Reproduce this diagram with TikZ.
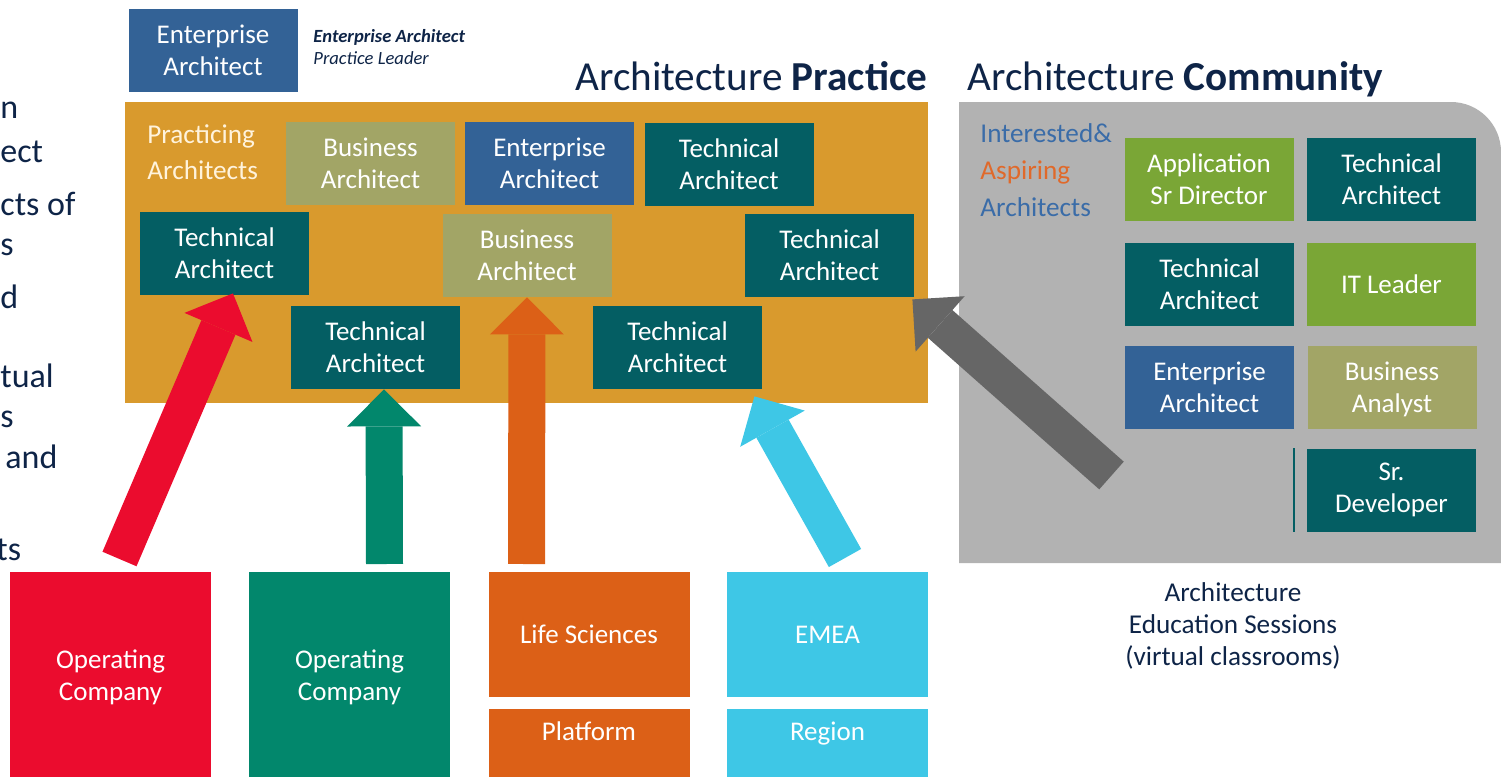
\documentclass[tikz,border=0pt]{standalone}
\usepackage{fontspec}
\setmainfont{Carlito}
\usetikzlibrary{arrows.meta}

\definecolor{practice}{HTML}{D99A2D}
\definecolor{community}{HTML}{B2B2B2}
\definecolor{techteal}{HTML}{045E63}
\definecolor{entblue}{HTML}{336296}
\definecolor{busolive}{HTML}{A2A566}
\definecolor{appgreen}{HTML}{7AA636}
\definecolor{navy}{HTML}{0E2447}
\definecolor{opred}{HTML}{EB0C2E}
\definecolor{opgreen}{HTML}{02876C}
\definecolor{lsorange}{HTML}{DC6017}
\definecolor{emeacyan}{HTML}{3EC7E6}
\definecolor{pointer}{HTML}{666666}
\definecolor{aspblue}{HTML}{3A6CA8}
\definecolor{asporange}{HTML}{E0692A}
\definecolor{cream}{HTML}{FFF3DC}

\tikzset{
  role/.style={inner sep=0pt, minimum width=84.5pt, minimum height=41.5pt,
    align=center, text=white, font=\fontsize{13.5}{16}\selectfont},
  tech/.style={role, fill=techteal},
  ent/.style={role, fill=entblue},
  bus/.style={role, fill=busolive},
  app/.style={role, fill=appgreen},
  unit/.style={role, minimum width=100.5pt},
  fragment/.style={anchor=base west, inner sep=0pt, text=navy,
    font=\fontsize{17}{20}\selectfont},
  heading/.style={anchor=base west, inner sep=0pt, text=navy,
    font=\fontsize{20.6}{24}\selectfont},
  bigarrow/.style={line width=18.5pt,
    -{Triangle[width=37pt,length=18.5pt,line width=0pt]}},
}

\begin{document}
\begin{tikzpicture}[x=0.5pt,y=-0.5pt]
      \useasboundingbox (0,0) rectangle (1501,777);
      % cut-off text on the left
      \node[fragment] (frag1) at (0,118) {n};
      \node[fragment] (frag2) at (0,162) {ect};
      \node[fragment] (frag3) at (0,215) {cts of};
      \node[fragment] (frag4) at (0,255) {s};
      \node[fragment] (frag5) at (0,308) {d};
      \node[fragment] (frag6) at (0,387) {tual};
      \node[fragment] (frag7) at (0,427) {s};
      \node[fragment] (frag8) at (5,468) {and};
      \node[fragment] (frag9) at (-4,560) {ts};
      % practice leader
      \node[ent] (lead) at (213,50) {Enterprise\\Architect};
      \node[anchor=west, align=left, inner sep=0pt, text=navy,
        font=\fontsize{9.3}{11}\selectfont] (leadnote) at (313,47)
        {\textbf{\textit{Enterprise Architect}}\\\textit{Practice Leader}};
      \node[heading] (practitle) at (575,90) {Architecture \textbf{Practice}};
      \node[heading] (commtitle) at (967,90) {Architecture \textbf{Community}};
      % architecture practice
      \fill[practice] (125,102) rectangle (928,403);
      \node[anchor=west, align=left, inner sep=0pt, text=cream,
        font=\fontsize{13.6}{18}\selectfont] (practicing) at (147,152)
        {Practicing\\Architects};
      \node[bus] (ba1) at (370.5,163) {Business\\Architect};
      \node[ent] (ea1) at (549.5,163) {Enterprise\\Architect};
      \node[tech] (ta1) at (729,164) {Technical\\Architect};
      \node[tech] (ta2) at (224.5,253.5) {Technical\\Architect};
      \node[bus] (ba2) at (527,255.5) {Business\\Architect};
      \node[tech] (ta3) at (829.5,255.5) {Technical\\Architect};
      \node[tech] (ta4) at (375.5,347.5) {Technical\\Architect};
      \node[tech] (ta5) at (677.5,347.5) {Technical\\Architect};
      % architecture community
      \fill[community] (959,563) -- (959,102) -- (1451,102)
        .. controls (1478.6,102) and (1501,124.4) .. (1501,152) -- (1501,563) -- cycle;
      \node[anchor=west, align=left, inner sep=0pt,
        font=\fontsize{13.6}{18.5}\selectfont] (aspiring) at (980,170)
        {\textcolor{aspblue}{Interested\&}\\\textcolor{asporange}{Aspiring}\\\textcolor{aspblue}{Architects}};
      \node[app] (asd) at (1209,179) {Application\\Sr Director};
      \node[tech] (ta6) at (1391.5,179) {Technical\\Architect};
      \node[tech] (ta7) at (1209.5,284) {Technical\\Architect};
      \node[app] (itl) at (1391.5,284) {IT Leader};
      \node[ent] (ea2) at (1209.5,387) {Enterprise\\Architect};
      \node[bus, text depth=0pt] (ban) at (1392,387) {Business\\Analyst};
      \node[tech] (srd) at (1391.5,490) {Sr.\\Developer};
      \draw[techteal, line width=1pt] ([xshift=-6.5pt]srd.north west) -- ([xshift=-6.5pt]srd.south west);
      \node[align=center, text=navy, font=\fontsize{13.6}{16}\selectfont] (edu) at (1233,626)
        {Architecture\\Education Sessions\\(virtual classrooms)};
      % sources
      \node[unit, fill=opred, minimum height=105pt] (opco1) at (110.5,677) {Operating\\Company};
      \node[unit, fill=opgreen, minimum height=105pt] (opco2) at (349.5,677) {Operating\\Company};
      \node[unit, fill=lsorange, minimum height=62.5pt] (lifesci) at (589,634.5) {Life Sciences};
      \node[unit, fill=lsorange, anchor=north, text height=15pt, text depth=25pt] (platform) at (589,709) {Platform};
      \node[unit, fill=emeacyan, minimum height=62.5pt] (emea) at (827.5,634.5) {EMEA};
      \node[unit, fill=emeacyan, anchor=north, text height=15pt, text depth=25pt] (region) at (827.5,709) {Region};
      % arrows
      \coordinate (redfoot) at (119.5,559);
      \coordinate (greenfoot) at (384.5,564);
      \coordinate (orangefoot) at (526.5,564);
      \coordinate (cyanfoot) at (845,558);
      \coordinate (grayfoot) at (1111.5,475.5);
      \draw[bigarrow, opred] (redfoot) -- ([xshift=4.25pt,yshift=1pt]ta2.south);
      \draw[bigarrow, opgreen] (greenfoot) -- ([xshift=4.25pt]ta4.south);
      \draw[bigarrow, lsorange] (orangefoot) -- (ba2.south);
      \draw[bigarrow, emeacyan] (cyanfoot) -- ([xshift=-4pt,yshift=-3.5pt]ta5.south east);
      \draw[bigarrow, pointer] (grayfoot) -- ([xshift=-1pt,yshift=-1pt]ta3.south east);
\end{tikzpicture}
\end{document}
